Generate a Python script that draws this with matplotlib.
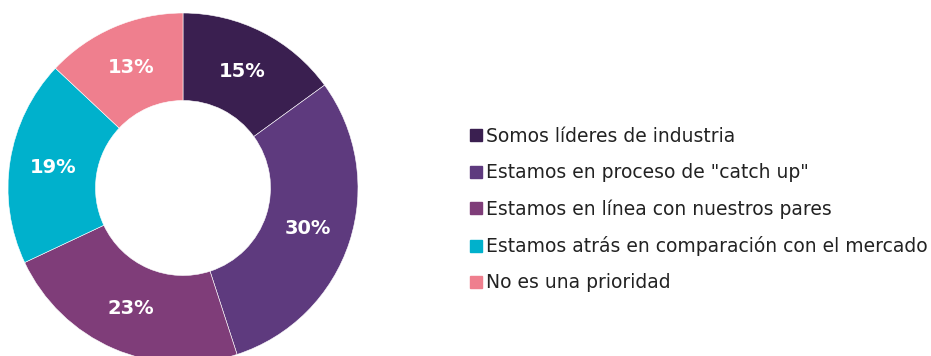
import matplotlib.pyplot as plt
from matplotlib.lines import Line2D

categories = [
    'Somos líderes de industria',
    'Estamos en proceso de "catch up"',
    'Estamos en línea con nuestros pares',
    'Estamos atrás en comparación con el mercado',
    'No es una prioridad',
]
shares = [15, 30, 23, 19, 13]
colors = ['#3a1f50', '#5e3a7e', '#7f3d79', '#00b1cc', '#ef7f8e']


def run():
    fig = plt.figure(figsize=(9.31, 3.56), dpi=100)
    W, H = 931, 356
    cx, cy, r = 183, 356 - 188, 175
    ax = fig.add_axes([(cx - r) / W, (cy - r) / H, 2 * r / W, 2 * r / H])

    wedges, _, pct = ax.pie(
        shares, colors=colors, startangle=90, counterclock=False,
        radius=1, autopct='%d%%', pctdistance=0.75,
        wedgeprops=dict(width=0.5, edgecolor='white', linewidth=0.4),
        textprops=dict(color='white', fontsize=14, fontweight='bold'))
    ax.set_xlim(-1, 1)
    ax.set_ylim(-1, 1)
    ax.set_aspect('equal')
    ax.axis('off')

    handles = [Line2D([], [], marker='s', linestyle='none', markersize=8.5,
                      markerfacecolor=c, markeredgecolor=c) for c in colors]
    fig.legend(handles, categories, loc='upper left',
               bbox_to_anchor=(470 / W, 1 - 127 / H), frameon=False,
               fontsize=13.5, labelspacing=0.92, handlelength=0.65,
               handletextpad=0.2, borderpad=0, borderaxespad=0,
               labelcolor='#222222')

    plt.savefig('out.png', dpi=100)


if __name__ == '__main__':
    run()
